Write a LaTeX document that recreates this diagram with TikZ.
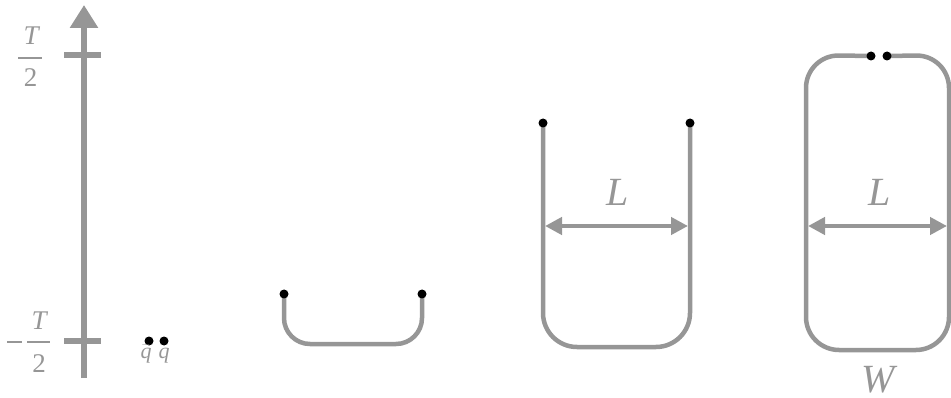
\documentclass[tikz,border=0pt]{standalone}
\usepackage{amsmath}
\usepackage{fontspec}
\setmainfont{Liberation Serif}
\usetikzlibrary{arrows.meta}
\definecolor{wgray}{RGB}{150,150,150}
\tikzset{
  wire/.style={draw=wgray, line width=4.5pt, line cap=round},
  qdot/.style={circle, fill=black, inner sep=0pt, minimum size=9pt},
  lbl/.style={text=wgray, inner sep=0pt, anchor=base},
  fracfont/.style={font=\fontsize{27}{27}\selectfont},
  span/.style={draw=wgray, line width=4.5pt, {Triangle[length=17pt,width=17pt]}-{Triangle[length=17pt,width=17pt]}},
}

\begin{document}
\begin{tikzpicture}[x=1pt,y=-1pt]
\useasboundingbox (0,0) rectangle (951,398);
\coordinate (tbot) at (84,378);
\coordinate (ttop) at (84,5);
\draw[wgray, line width=6.5pt, -{Triangle[length=23pt,width=27pt]}] (tbot) -- (ttop);
\draw[wgray, line width=6pt] (64,55) -- (101,55);
\draw[wgray, line width=6pt] (64,341) -- (101,341);
% T/2 labels
\node[lbl, fracfont] (thinum) at (32,45) {\textit{T}};
\draw[wgray, line width=2pt] (18,58) -- (42,58);
\node[lbl, fracfont] (thiden) at (30.5,87) {2};
\node[lbl, fracfont] (tlonum) at (40,329) {\textit{T}};
\draw[wgray, line width=2pt] (7,342) -- (22,342);
\draw[wgray, line width=2pt] (27,342) -- (50,342);
\node[lbl, fracfont] (tloden) at (39,372) {2};
% quark pair at t=-T/2
\node[qdot] (qa) at (149,341) {};
\node[qdot] (qb) at (164,341) {};
\node[lbl, font=\fontsize{22}{22}\selectfont] (qbar) at (146,358) {$\bar{\textit{q}}$};
\node[lbl, font=\fontsize{22}{22}\selectfont] (q) at (164,358) {\textit{q}};
% small loop
\coordinate (ubot) at (0,344);
\coordinate (ua) at (284,294);
\coordinate (ub) at (422,294);
\draw[wire, rounded corners=26pt] (ua) -- (ua |- ubot) -- (ub |- ubot) -- (ub);
\node[qdot] (uadot) at (ua) {};
\node[qdot] (ubdot) at (ub) {};
% stretched loop
\coordinate (mbot) at (0,347);
\coordinate (mspan) at (0,226);
\coordinate (ma) at (543,123);
\coordinate (mb) at (690,123);
\draw[wire, rounded corners=34pt] (ma) -- (ma |- mbot) -- (mb |- mbot) -- (mb);
\node[qdot] (madot) at (ma) {};
\node[qdot] (mbdot) at (mb) {};
\draw[span, shorten <=2pt, shorten >=2pt] (ma |- mspan) -- (mb |- mspan);
\node[lbl, font=\fontsize{40}{40}\selectfont] (lm) at (618,206) {\textit{L}};
% closed loop
\coordinate (rnw) at (806,55);
\coordinate (rne) at (949,55);
\coordinate (rse) at (949,350);
\coordinate (rsw) at (806,350);
\coordinate (ra) at (871,56);
\coordinate (rb) at (887,56);
\draw[wire, rounded corners=33pt] (rb) -- (rne) -- (rse) -- (rsw) -- (rnw) -- (ra);
\node[qdot] (radot) at (ra) {};
\node[qdot] (rbdot) at (rb) {};
\draw[span, shorten <=2pt, shorten >=2pt] (rnw |- mspan) -- (rne |- mspan);
\node[lbl, font=\fontsize{40}{40}\selectfont] (lr) at (880,206) {\textit{L}};
\node[lbl, font=\fontsize{40}{40}\selectfont] (w) at (880,392) {\textit{W}};
\end{tikzpicture}
\end{document}
